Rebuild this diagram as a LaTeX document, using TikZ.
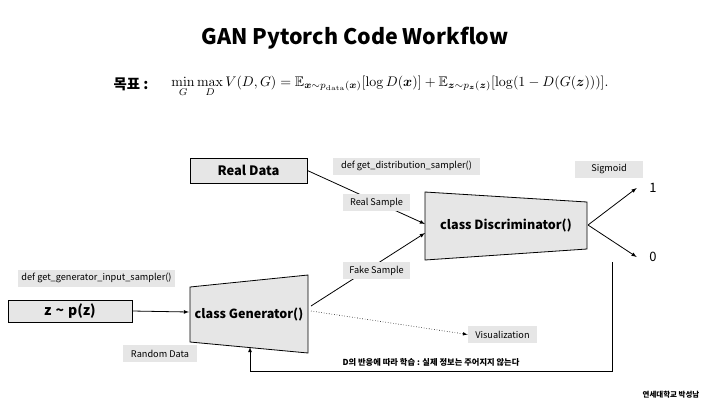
\documentclass[tikz,border=0pt]{standalone}
\usepackage[no-math]{fontspec}
\usepackage{amsmath,amssymb,bm}
\setmainfont{Noto Sans CJK KR}
\definecolor{boxgray}{RGB}{230,230,230}
\tikzset{
    databox/.style={draw, fill=boxgray, inner sep=0pt, font=\bfseries\fontsize{13}{15}\selectfont},
    tag/.style={fill=boxgray, inner sep=0pt, minimum height=17bp, font=\fontsize{9.2}{11}\selectfont},
    trap/.style={draw, fill=boxgray},
    classtext/.style={font=\bfseries\fontsize{12.6}{15}\selectfont},
}
\begin{document}
\begin{tikzpicture}[x=1bp, y=-1bp, >=latex, line width=0.8bp]
        \useasboundingbox (0,0) rectangle (720,405);
        % title and objective
        \node[font=\bfseries\fontsize{21.5}{25}\selectfont] (title) at (355,38) {GAN Pytorch Code Workflow};
        \node[font=\bfseries\fontsize{14.5}{16}\selectfont] (goal) at (131,84) {목표 :};
        \node (formula) at (390,86) {\resizebox{437bp}{!}{$\min\limits_G \max\limits_D V(D,G) = \mathbb{E}_{\bm{x}\sim p_{\mathrm{data}}(\bm{x})}[\log D(\bm{x})] + \mathbb{E}_{\bm{z}\sim p_{\bm{z}}(\bm{z})}[\log(1-D(G(\bm{z})))].$}};
        % trapezoids
        \draw[trap](425,192)--(587,202)--(587,249)--(425,260)--cycle;
        \draw[trap](190,287)--(308,275)--(308,353)--(190,342)--cycle;
        \node[classtext] (dis) at (506,225) {class Discriminator()};
        \node[classtext] (gen) at (249,314) {class Generator()};
        \coordinate (dis-real) at (425,224);
        \coordinate (dis-fake) at (425,233);
        \coordinate (dis-out) at (588,225);
        \coordinate (gen-in) at (189,312);
        \coordinate (gen-fake) at (311,306);
        \coordinate (gen-vis) at (311,311);
        % data boxes
        \node[databox, minimum width=117bp, minimum height=25bp] (real) at (248.5,170.5) {Real Data};
        \node[databox, minimum width=124bp, minimum height=22bp, font=\bfseries\fontsize{14}{16}\selectfont] (noise) at (70,311) {z\hspace{4bp}\char`~\hspace{4bp}p(z)};
        % outputs
        \node[font=\fontsize{13}{15}\selectfont] (one) at (653,188) {1};
        \node[font=\fontsize{13}{15}\selectfont] (zero) at (653,257) {0};
        % connectors
        \draw[->](real.east)--(dis-real);
        \draw[->](gen-fake)--(dis-fake);
        \draw[->](noise.east)--(gen-in);
        \draw[->](dis-out)--([xshift=-9bp]one.west);
        \draw[->](dis-out)--([xshift=-9bp]zero.west);
        % tags
        \node[tag, minimum width=147bp] (distsampler) at (406.5,166) {def get\_distribution\_sampler()};
        \node[tag, minimum width=68bp] (sigmoid) at (609,169) {Sigmoid};
        \node[tag, minimum width=67bp] (realsample) at (376.5,202.5) {Real Sample};
        \node[tag, minimum width=67bp] (fakesample) at (376.5,270.5) {Fake Sample};
        \node[tag, minimum width=157bp] (gensampler) at (96.5,278) {def get\_generator\_input\_sampler()};
        \node[tag, minimum width=74bp] (random) at (160,353.5) {Random Data};
        \node[tag, minimum width=69bp] (vis) at (502.5,334.5) {Visualization};
        \draw[->, dotted, line width=0.6bp](gen-vis)--(vis.west);
        % feedback
        \coordinate (fb-start) at (612,262);
        \coordinate (fb-end) at (250,347);
        \draw[->](fb-start)--(612,371)-|(fb-end);
        \node[font=\bfseries\fontsize{8.3}{10}\selectfont] (feedback) at (431,362) {D의 반응에 따라 학습 : 실제 정보는 주어지지 않는다};
        \node[font=\bfseries\fontsize{7.5}{9}\selectfont] (author) at (671,395) {연세대학교 박성남};
    \end{tikzpicture}
\end{document}
